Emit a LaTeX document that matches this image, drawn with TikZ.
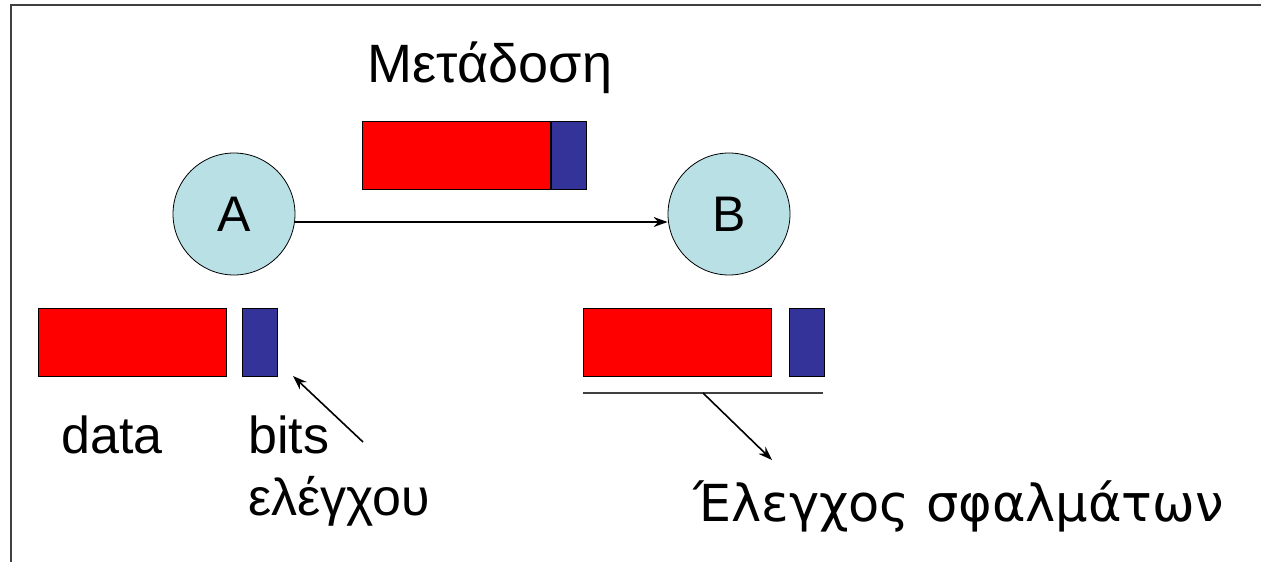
\documentclass[tikz,border=0pt]{standalone}
\usepackage{fontspec}
\setmainfont{Liberation Sans}
\newfontfamily\widefont{DejaVu Sans}
\usetikzlibrary{positioning,arrows.meta}
\definecolor{pktred}{RGB}{255,0,0}
\definecolor{pktblue}{RGB}{51,51,153}
\definecolor{stationfill}{RGB}{185,224,228}
\tikzset{
  station/.style={circle, draw, thick, fill=stationfill, minimum size=122pt, inner sep=0pt, font=\fontsize{50}{60}\selectfont},
  datablk/.style={draw, thick, fill=pktred, minimum width=188pt, minimum height=68pt, inner sep=0pt},
  chkblk/.style={draw, thick, fill=pktblue, minimum width=35pt, minimum height=68pt, inner sep=0pt},
  label/.style={inner sep=0pt, font=\fontsize{52}{60}\selectfont},
  pointer/.style={-{Stealth[length=14pt,width=10pt]}, line width=1.6pt},
}
\begin{document}
\begin{tikzpicture}[x=1pt,y=-1pt]
                \useasboundingbox (0,0) rectangle (1261,562);
                \draw[line width=2pt, black!75] (11,562) -- (11,5) -- (1261,5);
                % stations and transmission
                \node[station] (A) at (234,214) {A};
                \node[station] (B) at (729,214) {B};
                \draw[pointer, line width=1.4pt] ([yshift=-8pt]A.east) -- ([yshift=-8pt]B.west);
                \node[label, anchor=base, font=\fontsize{54}{60}\selectfont] (send) at (490,82) {Μετάδοση};
                \node[datablk, anchor=north west] (tdata) at (362,121) {};
                \node[chkblk, anchor=west] (tchk) at (tdata.east) {};
                % packet at A
                \node[datablk, anchor=north west] (adata) at (38,308) {};
                \node[chkblk, anchor=north west] (achk) at (242,308) {};
                \node[label, anchor=base west] (datatxt) at (61,453) {data};
                \node[label, anchor=base west] (bitstxt) at (248,453) {bits};
                \node[label, anchor=base west] (elegxtxt) at (248,515) {ελέγχου};
                \coordinate (atail) at (363,442);
                \coordinate (ahead) at (293,376);
                \draw[pointer] (atail) -- (ahead);
                % packet at B
                \node[datablk, anchor=north west] (bdata) at (583,308) {};
                \node[chkblk, anchor=north west] (bchk) at (789,308) {};
                \coordinate (uleft) at (583,393);
                \coordinate (uright) at (823,393);
                \draw[line width=1.6pt, black!75] (uleft) -- (uright);
                \coordinate (btail) at (703,393);
                \coordinate (bhead) at (772,460);
                \draw[pointer] (btail) -- (bhead);
                \node[label, anchor=base west, font=\widefont\fontsize{51}{60}\selectfont] (errtxt) at (693,521) {Έλεγχος σφαλμάτων};
\end{tikzpicture}
\end{document}
